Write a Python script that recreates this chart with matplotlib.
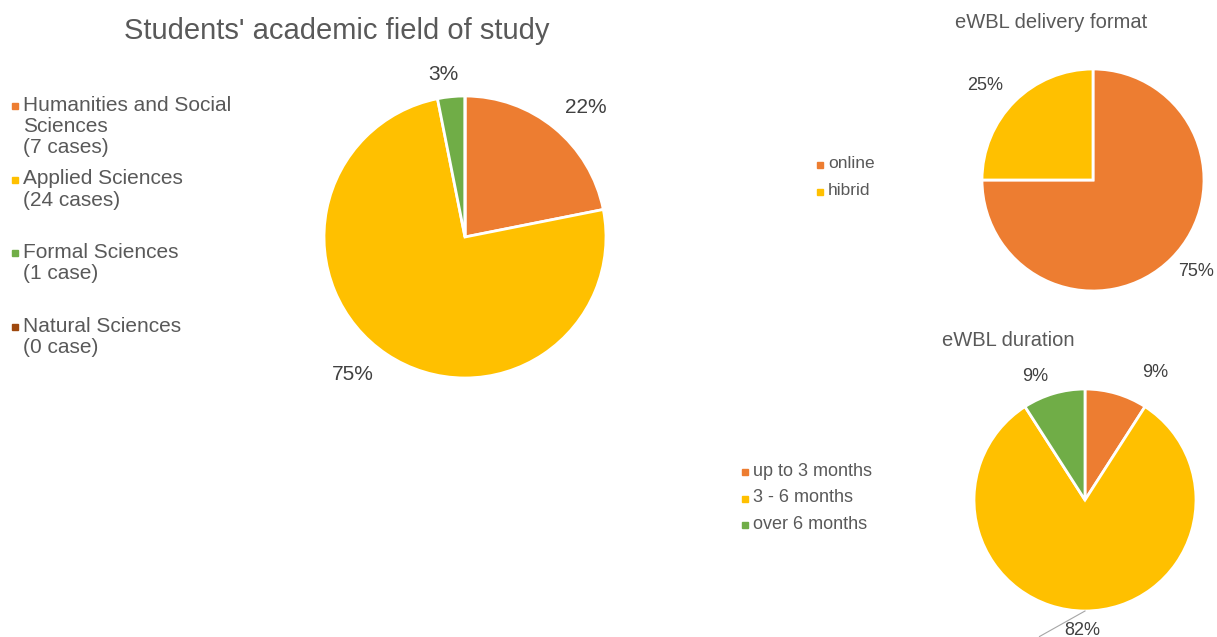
import matplotlib.pyplot as plt
import numpy as np
from matplotlib.lines import Line2D

plt.rcParams["font.family"] = ["Liberation Sans", "DejaVu Sans"]

W, H = 1217, 637
TEXT_COLOR = "#595959"
PCT_COLOR = "#404040"

FIELD_LABELS = [
    "Humanities and Social\nSciences\n(7 cases)",
    "Applied Sciences\n(24 cases)",
    "Formal Sciences\n(1 case)",
    "Natural Sciences\n(0 case)",
]
FIELD_CASES = [7, 24, 1, 0]
FIELD_COLORS = ["#ED7D31", "#FFC000", "#70AD47", "#9E480E"]

FORMAT_LABELS = ["online", "hibrid"]
FORMAT_SHARE = [75, 25]
FORMAT_COLORS = ["#ED7D31", "#FFC000"]

DURATION_LABELS = ["up to 3 months", "3 - 6 months", "over 6 months"]
DURATION_CASES = [1, 9, 1]
DURATION_COLORS = ["#ED7D31", "#FFC000", "#70AD47"]

PAD = 1.6

# where the percentage labels sit, in pie radii from the centre
FIELD_PCT_POS = [(0.86, 0.915), (-0.794, -0.972), (-0.156, 1.149), None]
FORMAT_PCT_POS = [(0.928, -0.82), (-0.973, 0.847)]
DURATION_PCT_POS = [(0.63, 1.153), (-0.027, -1.18), (-0.45, 1.117)]


def pie_axes(fig, cx, cy, r):
    return fig.add_axes([(cx - r * PAD) / W, 1 - (cy + r * PAD) / H,
                         2 * r * PAD / W, 2 * r * PAD / H])


def draw_pie(ax, values, colors, label_pos, fontsize, weight="normal"):
    wedges, _, autotexts = ax.pie(
        values,
        colors=colors,
        startangle=90,
        counterclock=False,
        radius=1,
        autopct=lambda p: f"{p:.0f}%" if p > 0 else "",
        wedgeprops=dict(edgecolor="white", linewidth=2),
        textprops=dict(color=PCT_COLOR, fontsize=fontsize, weight=weight),
    )
    # pie() resets the limits, so fix them afterwards
    ax.set_xlim(-PAD, PAD)
    ax.set_ylim(-PAD, PAD)
    ax.set_aspect("equal")
    ax.axis("off")
    for t, pos in zip(autotexts, label_pos):
        t.set_clip_on(False)
        if pos is not None:
            t.set_position(pos)
    return wedges, autotexts


def draw_legend(fig, x, y0, step, labels, colors, fontsize, linespacing=1.15):
    for i, (lab, col) in enumerate(zip(labels, colors)):
        y = y0 + i * step
        fig.add_artist(Line2D([x / W], [1 - y / H], marker="s", markersize=4,
                              color=col, linestyle="none",
                              transform=fig.transFigure))
        top = y - fontsize * 100 / 72 * 0.5
        fig.text((x + 8) / W, 1 - top / H, lab, fontsize=fontsize,
                 color=TEXT_COLOR, va="top", ha="left",
                 linespacing=linespacing, transform=fig.transFigure)


fig = plt.figure(figsize=(W / 100, H / 100), dpi=100)
fig.patch.set_facecolor("white")

# main pie: field of study
fig.text(337 / W, 1 - 31 / H, "Students' academic field of study",
         fontsize=21, color=TEXT_COLOR, ha="center", va="center")
ax1 = pie_axes(fig, 465, 237, 141)
draw_pie(ax1, FIELD_CASES, FIELD_COLORS, FIELD_PCT_POS, 15)
draw_legend(fig, 15, 106, 73.7, FIELD_LABELS, FIELD_COLORS, 15)

# delivery format
fig.text(1051 / W, 1 - 22 / H, "eWBL delivery format",
         fontsize=14.5, color=TEXT_COLOR, ha="center", va="center")
ax2 = pie_axes(fig, 1093, 180, 111)
draw_pie(ax2, FORMAT_SHARE, FORMAT_COLORS, FORMAT_PCT_POS, 13)
draw_legend(fig, 820, 165, 27, FORMAT_LABELS, FORMAT_COLORS, 12.5)

# duration
fig.text(1008 / W, 1 - 340 / H, "eWBL duration",
         fontsize=14.5, color=TEXT_COLOR, ha="center", va="center")
ax3 = pie_axes(fig, 1085, 500, 111)
draw_pie(ax3, DURATION_CASES, DURATION_COLORS, DURATION_PCT_POS, 13)
ax3.plot([0, -0.41], [-1.0, -1.23], color="#a6a6a6", lw=0.8, clip_on=False)
draw_legend(fig, 745, 472, 26.5, DURATION_LABELS, DURATION_COLORS, 13)

fig.savefig("out.png", dpi=100, facecolor="white")
